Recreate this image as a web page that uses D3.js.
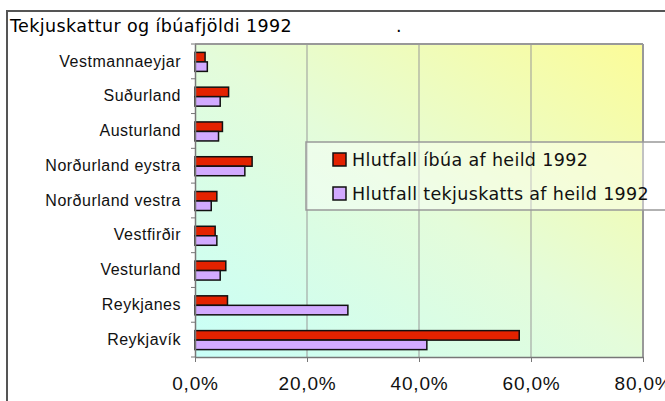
<!DOCTYPE html>
<html>
<head>
<meta charset="utf-8">
<script src="https://cdn.jsdelivr.net/npm/d3@7"></script>
<style>
  body { margin: 0; background: #fff; }
  svg { display: block; font-family: "DejaVu Sans", Verdana, sans-serif; }
</style>
</head>
<body>
<svg width="665" height="401"></svg>
<script>
const regions = ["Vestmannaeyjar", "Suðurland", "Austurland", "Norðurland eystra",
  "Norðurland vestra", "Vestfirðir", "Vesturland", "Reykjanes", "Reykjavík"];
const ibua = [0.018, 0.060, 0.049, 0.102, 0.039, 0.036, 0.055, 0.058, 0.579];
const tekju = [0.022, 0.045, 0.042, 0.089, 0.029, 0.039, 0.045, 0.273, 0.414];
const seriesNames = ["Hlutfall íbúa af heild 1992", "Hlutfall tekjuskatts af heild 1992"];
const seriesColors = ["#e32200", "#d2aaff"];
const xTicks = [0, 0.2, 0.4, 0.6, 0.8];

const svg = d3.select("svg"),
      margin = {top: 44, right: 22, bottom: 44, left: 195},
      width = +svg.attr("width") - margin.left - margin.right,
      height = +svg.attr("height") - margin.top - margin.bottom;

const locale = d3.formatLocale({decimal: ",", thousands: ".", grouping: [3], currency: ["", " kr"]});
const pct = locale.format(".1%");

// outer frame
svg.append("path")
    .attr("d", "M7,401 V11 H665")
    .attr("fill", "none")
    .attr("stroke", "#555")
    .attr("stroke-width", 2);

svg.append("text")
    .attr("x", 10)
    .attr("y", 32)
    .style("font-size", "17.5px")
    .style("letter-spacing", "0.4px")
    .text("Tekjuskattur og íbúafjöldi 1992");
svg.append("text")
    .attr("x", 396)
    .attr("y", 32)
    .style("font-size", "17.5px")
    .text(".");

const defs = svg.append("defs");
const grad = defs.append("linearGradient")
    .attr("id", "bg")
    .attr("x1", "0%").attr("y1", "100%")
    .attr("x2", "100%").attr("y2", "0%");
grad.append("stop").attr("offset", "0%").attr("stop-color", "#c8fff8");
grad.append("stop").attr("offset", "50%").attr("stop-color", "#e4fcda");
grad.append("stop").attr("offset", "100%").attr("stop-color", "#fcfc98");

const g = svg.append("g").attr("transform", `translate(${margin.left},${margin.top})`);

const x = d3.scaleLinear().domain([0, 0.8]).range([0, width]);
const y = d3.scaleBand().domain(regions).range([0, height]).padding(0);
const sub = d3.scaleBand().domain([0, 1]).range([y.bandwidth() / 2 - 9, y.bandwidth() / 2 + 10]);

g.append("rect")
    .attr("width", width)
    .attr("height", height)
    .attr("fill", "url(#bg)");

// gridlines
g.append("g")
  .selectAll("line")
  .data(xTicks.slice(1))
  .join("line")
    .attr("x1", d => x(d)).attr("x2", d => x(d))
    .attr("y1", 0).attr("y2", height)
    .attr("stroke", "#999")
    .attr("stroke-width", d => d === 0.8 ? 2 : 1);

g.append("line")
    .attr("x1", 0).attr("x2", width)
    .attr("y1", 0).attr("y2", 0)
    .attr("stroke", "#999")
    .attr("stroke-width", 2);

// bars
const rows = regions.map((r, i) => ({region: r, vals: [ibua[i], tekju[i]]}));
g.append("g")
  .selectAll("g")
  .data(rows)
  .join("g")
    .attr("transform", d => `translate(0,${y(d.region)})`)
  .selectAll("rect")
  .data(d => d.vals.map((v, k) => ({k, v})))
  .join("rect")
    .attr("x", 0)
    .attr("y", d => sub(d.k))
    .attr("width", d => x(d.v))
    .attr("height", sub.bandwidth())
    .attr("fill", d => seriesColors[d.k])
    .attr("stroke", "#111")
    .attr("stroke-width", 1.5);

// axes
const yAxis = g.append("g")
    .call(d3.axisLeft(y).tickSize(0).tickPadding(14));
yAxis.select(".domain").attr("stroke", "#777").attr("stroke-width", 1.5);
yAxis.selectAll("text")
    .style("font-size", "16px")
    .style("letter-spacing", "0.5px")
    .attr("fill", "#111");
g.append("g")
  .selectAll("line")
  .data(regions.concat([null]))
  .join("line")
    .attr("x1", -4).attr("x2", 0)
    .attr("y1", (d, i) => i * y.step()).attr("y2", (d, i) => i * y.step())
    .attr("stroke", "#777");

const xAxis = g.append("g")
    .attr("transform", `translate(0,${height})`)
    .call(d3.axisBottom(x).tickValues(xTicks).tickFormat(pct).tickSize(5).tickPadding(15).tickSizeOuter(0));
xAxis.select(".domain").attr("stroke", "#777").attr("stroke-width", 1.5);
xAxis.selectAll(".tick line").attr("stroke", "#777");
xAxis.selectAll("text")
    .style("font-size", "19px")
    .style("letter-spacing", "0.8px")
    .attr("fill", "#111");

// legend
const legend = svg.append("g").attr("transform", "translate(306,142)");
legend.append("rect")
    .attr("width", 380)
    .attr("height", 68)
    .attr("fill", "#fff")
    .attr("fill-opacity", 0.4)
    .attr("stroke", "#999")
    .attr("stroke-width", 1.5);
seriesNames.forEach((name, i) => {
  const item = legend.append("g").attr("transform", `translate(27,${11 + i * 34})`);
  item.append("rect")
      .attr("width", 13)
      .attr("height", 13)
      .attr("fill", seriesColors[i])
      .attr("stroke", "#111")
      .attr("stroke-width", 1.5);
  item.append("text")
      .attr("x", 19)
      .attr("y", 13)
      .style("font-size", "17.5px")
      .style("letter-spacing", "0.35px")
      .attr("fill", "#111")
      .text(name);
});
</script>
</body>
</html>
